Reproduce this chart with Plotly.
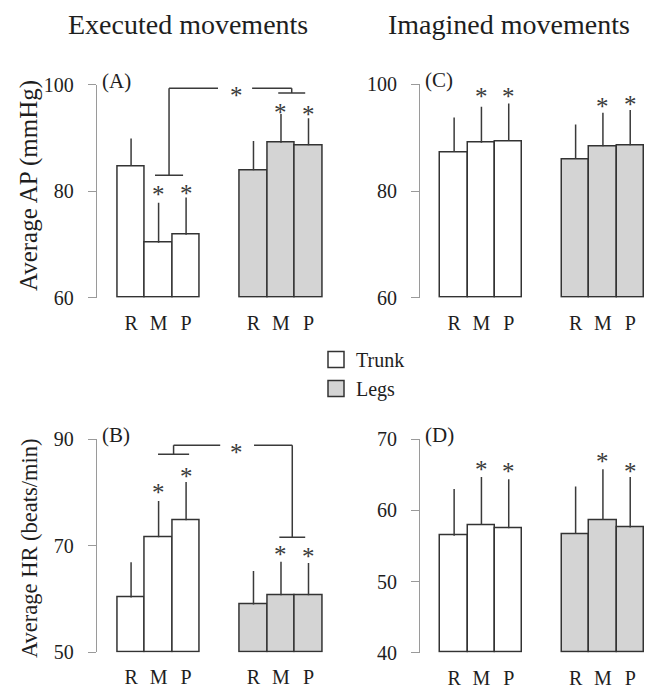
import plotly.graph_objects as go

# ---------------- data ----------------
conditions = ["R", "M", "P"]
trunk_pos = [0.0, 1.0, 2.0]
legs_pos = [4.45, 5.45, 6.45]

# (A) Executed, average AP (mmHg)
ap_exec_trunk = [84.7, 70.3, 71.8]
ap_exec_trunk_sd = [5.2, 7.5, 7.0]
ap_exec_legs = [83.9, 89.1, 88.6]
ap_exec_legs_sd = [5.5, 5.4, 5.1]
# (B) Executed, average HR (beats/min)
hr_exec_trunk = [60.3, 71.6, 74.8]
hr_exec_trunk_sd = [6.6, 6.8, 7.2]
hr_exec_legs = [59.0, 60.75, 60.75]
hr_exec_legs_sd = [6.3, 6.25, 6.05]
# (C) Imagined, average AP
ap_imag_trunk = [87.3, 89.05, 89.4]
ap_imag_trunk_sd = [6.5, 6.75, 7.0]
ap_imag_legs = [86.0, 88.4, 88.6]
ap_imag_legs_sd = [6.5, 6.3, 6.6]
# (D) Imagined, average HR
hr_imag_trunk = [56.45, 57.95, 57.5]
hr_imag_trunk_sd = [6.55, 6.75, 6.9]
hr_imag_legs = [56.7, 58.65, 57.6]
hr_imag_legs_sd = [6.65, 7.15, 7.1]

# asterisk levels (x position, y level)
stars_A = [(1.0, 80.1), (2.0, 80.4), (5.45, 95.6), (6.45, 95.1)]
stars_B = [(1.0, 80.7), (2.0, 83.8), (5.45, 69.1), (6.45, 68.8)]
stars_C = [(1.0, 98.5), (2.0, 98.5), (5.45, 96.6), (6.45, 96.9)]
stars_D = [(1.0, 66.3), (2.0, 66.1), (5.45, 67.5), (6.45, 66.1)]

# significance brackets between trunk (M,P) and legs (M,P)
bracket_A = dict(left=(0.87, 1.89), y_left=83.0, y_top=99.3, right=(5.35, 6.33),
                 y_right=98.4, gap=(3.16, 4.40), star=(3.82, 98.7))
bracket_B = dict(left=(0.98, 2.11), y_left=87.2, y_top=88.9, right=(5.39, 6.33),
                 y_right=71.6, gap=(3.24, 4.47), star=(3.85, 88.2))

FONT = "Liberation Serif"
TXT = "#1e1e1e"
EDGE = "#333333"
ERR = "#3a3a3a"
AXC = "#9a9a9a"
LEG_FILL = "#d4d4d4"

W, H = 652, 689
OFF = 8  # the page places the figure 8 px in from the window's corner


def px_x(p):
    return (p - OFF) / W


def px_y(p):
    return 1 - (p - OFF) / H


panels = [
    ("A", "", ap_exec_trunk, ap_exec_trunk_sd, ap_exec_legs, ap_exec_legs_sd, [60, 100], [60, 80, 100], stars_A, (96.7, 325.0), (297.7, 84.6)),
    ("C", "2", ap_imag_trunk, ap_imag_trunk_sd, ap_imag_legs, ap_imag_legs_sd, [60, 100], [60, 80, 100], stars_C, (420.0, 646.6), (297.7, 84.4)),
    ("B", "3", hr_exec_trunk, hr_exec_trunk_sd, hr_exec_legs, hr_exec_legs_sd, [50, 90], [50, 70, 90], stars_B, (96.7, 325.0), (652.4, 439.3)),
    ("D", "4", hr_imag_trunk, hr_imag_trunk_sd, hr_imag_legs, hr_imag_legs_sd, [40, 70], [40, 50, 60, 70], stars_D, (420.0, 646.6), (652.7, 439.3)),
]

fig = go.Figure()
annotations = []
shapes = []
layout_axes = {}

for name, sfx, tr, tr_sd, lg, lg_sd, yr, ticks, stars, xd, yd in panels:
    xa = "x" + sfx
    ya = "y" + sfx
    base = yr[0]
    for pos, vals, sds, fill, label in [(trunk_pos, tr, tr_sd, "white", "Trunk"),
                                        (legs_pos, lg, lg_sd, LEG_FILL, "Legs")]:
        fig.add_trace(go.Bar(
            x=pos, y=[v - base for v in vals], base=[base] * len(vals), width=1.0,
            marker=dict(color=fill, line=dict(color=EDGE, width=1.5)),
            error_y=dict(type="data", array=sds, arrayminus=[0] * len(sds), symmetric=False,
                         width=0, thickness=1.5, color=ERR),
            name=label, showlegend=False, xaxis=xa, yaxis=ya,
        ))
    layout_axes["xaxis" + sfx] = dict(
        domain=[px_x(xd[0]), px_x(xd[1])], range=[-1.25, 7.05], anchor=ya,
        showline=False, showgrid=False, zeroline=False, ticks="", automargin=False,
        tickvals=trunk_pos + legs_pos, ticktext=conditions + conditions,
        tickfont=dict(family=FONT, size=20, color=TXT), ticklabelstandoff=11,
        fixedrange=True,
    )
    layout_axes["yaxis" + sfx] = dict(
        domain=[px_y(yd[0]), px_y(yd[1])], range=yr, anchor=xa, automargin=False,
        showline=True, linecolor=AXC, linewidth=1, showgrid=False, zeroline=False,
        ticks="outside", ticklen=8, tickwidth=1, tickcolor=AXC, tickvals=ticks,
        tickfont=dict(family=FONT, size=20, color=TXT), ticklabelstandoff=10,
        fixedrange=True,
    )
    for sx, sy in stars:
        annotations.append(dict(x=sx, y=sy, xref=xa, yref=ya, text="*", showarrow=False,
                                xanchor="center", yanchor="middle",
                                font=dict(family=FONT, size=25, color=ERR), yshift=-4))
    annotations.append(dict(x=px_x(xd[0] + 3), y=px_y(yd[1] - 4), xref="paper", yref="paper",
                            xanchor="left", yanchor="middle", text="(" + name + ")",
                            showarrow=False, font=dict(family=FONT, size=21, color=TXT)))

# legend entries (square swatches)
for label, fill in [("Trunk", "white"), ("Legs", LEG_FILL)]:
    fig.add_trace(go.Scatter(
        x=[None], y=[None], mode="markers", name=label, showlegend=True,
        marker=dict(symbol="square", size=16, color=fill, line=dict(color=EDGE, width=1.5)),
    ))

for br, sfx in [(bracket_A, ""), (bracket_B, "3")]:
    xa, ya = "x" + sfx, "y" + sfx
    lmid = (br["left"][0] + br["left"][1]) / 2
    rmid = (br["right"][0] + br["right"][1]) / 2
    segs = [
        (br["left"][0], br["y_left"], br["left"][1], br["y_left"]),
        (lmid, br["y_left"], lmid, br["y_top"]),
        (lmid, br["y_top"], br["gap"][0], br["y_top"]),
        (br["gap"][1], br["y_top"], rmid, br["y_top"]),
        (rmid, br["y_top"], rmid, br["y_right"]),
        (br["right"][0], br["y_right"], br["right"][1], br["y_right"]),
    ]
    for x0, y0, x1, y1 in segs:
        shapes.append(dict(type="line", xref=xa, yref=ya, x0=x0, y0=y0, x1=x1, y1=y1,
                           line=dict(color=ERR, width=1.5)))
    annotations.append(dict(x=br["star"][0], y=br["star"][1], xref=xa, yref=ya, text="*",
                            xanchor="center", yanchor="middle", showarrow=False,
                            font=dict(family=FONT, size=25, color=ERR), yshift=-4))

for txt, cx, cy, size, ang in [("Executed movements", 187.5, 24, 28, 0),
                               ("Imagined movements", 509, 24, 28, 0),
                               ("Average AP (mmHg)", 29, 186, 25, -90),
                               ("Average HR (beats/min)", 29, 548, 22.5, -90)]:
    annotations.append(dict(x=px_x(cx), y=px_y(cy), xref="paper", yref="paper", text=txt,
                            xanchor="center", yanchor="middle", textangle=ang, showarrow=False,
                            font=dict(family=FONT, size=size, color=TXT)))

fig.update_layout(
    template="none",
    width=W, height=H, margin=dict(l=0, r=0, t=0, b=0, pad=0, autoexpand=False),
    paper_bgcolor="white", plot_bgcolor="white",
    barmode="overlay", bargap=0,
    font=dict(family=FONT, color=TXT),
    legend=dict(x=px_x(316), y=px_y(340), xanchor="left", yanchor="top",
                font=dict(family=FONT, size=20, color=TXT), bgcolor="rgba(0,0,0,0)",
                itemwidth=30, tracegroupgap=0, itemsizing="trace"),
    annotations=annotations, shapes=shapes,
    **layout_axes,
)

fig.write_html("out.html")
